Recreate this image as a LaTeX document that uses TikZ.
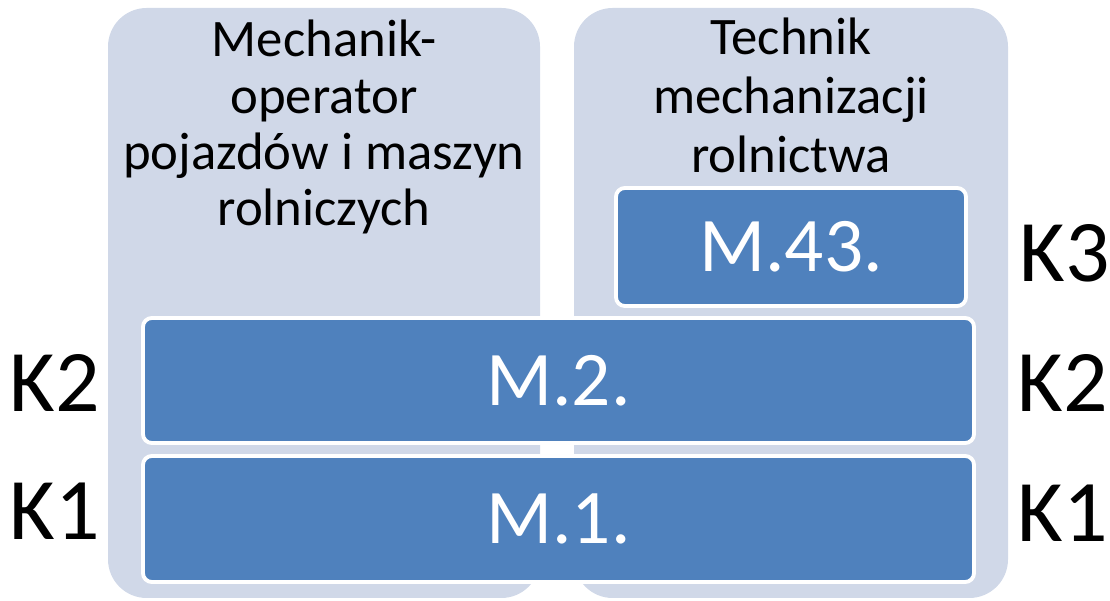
\documentclass[tikz,border=0pt]{standalone}
\usepackage{fontspec}
\setmainfont{Carlito}
\definecolor{kfBlue}{HTML}{4F81BD}
\definecolor{kfPanel}{HTML}{D0D8E8}
\usetikzlibrary{calc,positioning}
\tikzset{
  panel/.style={fill=kfPanel, rounded corners=22pt, inner sep=0pt},
  modbox/.style={fill=kfBlue, draw=white, line width=2.2pt, rounded corners=5pt,
    text=white, font=\fontsize{44}{50}\selectfont, inner sep=0pt},
  title/.style={align=center, font=\fontsize{30}{32}\selectfont, inner sep=0pt},
  level/.style={font=\fontsize{50}{56}\selectfont, inner sep=0pt}
}

\begin{document}
\begin{tikzpicture}
  \useasboundingbox (0,0) rectangle (22.2,12.02);
  % two qualification columns
  \node[panel, minimum width=8.64cm, minimum height=11.8cm] (left) at (6.48,5.96) {};
  \node[panel, minimum width=8.68cm, minimum height=11.8cm] (right) at (15.82,5.96) {};
  \node[title, anchor=north] (lefttitle) at (6.48,11.62) {Mechanik-\\operator\\pojazdów i maszyn\\rolniczych};
  \node[title, font=\fontsize{30}{33.5}\selectfont, anchor=north] (righttitle) at (15.82,11.66) {Technik\\mechanizacji\\rolnictwa};
  % qualifications
  \node[modbox, minimum width=7.0cm, minimum height=2.36cm] (m43) at (15.82,7.08) {M.43.};
  \node[modbox, minimum width=16.62cm, minimum height=2.5cm] (m2) at (11.17,4.41) {M.2.};
  \node[modbox, minimum width=16.62cm, minimum height=2.52cm] (m1) at (11.17,1.64) {M.1.};
  % levels
  \node[level] (k3r) at (21.3,6.95) {K3};
  \node[level] (k2r) at (21.26,4.35) {K2};
  \node[level] (k1r) at (21.26,1.75) {K1};
  \node[level] (k2l) at (1.1,4.35) {K2};
  \node[level] (k1l) at (1.1,1.8) {K1};
\end{tikzpicture}
\end{document}
